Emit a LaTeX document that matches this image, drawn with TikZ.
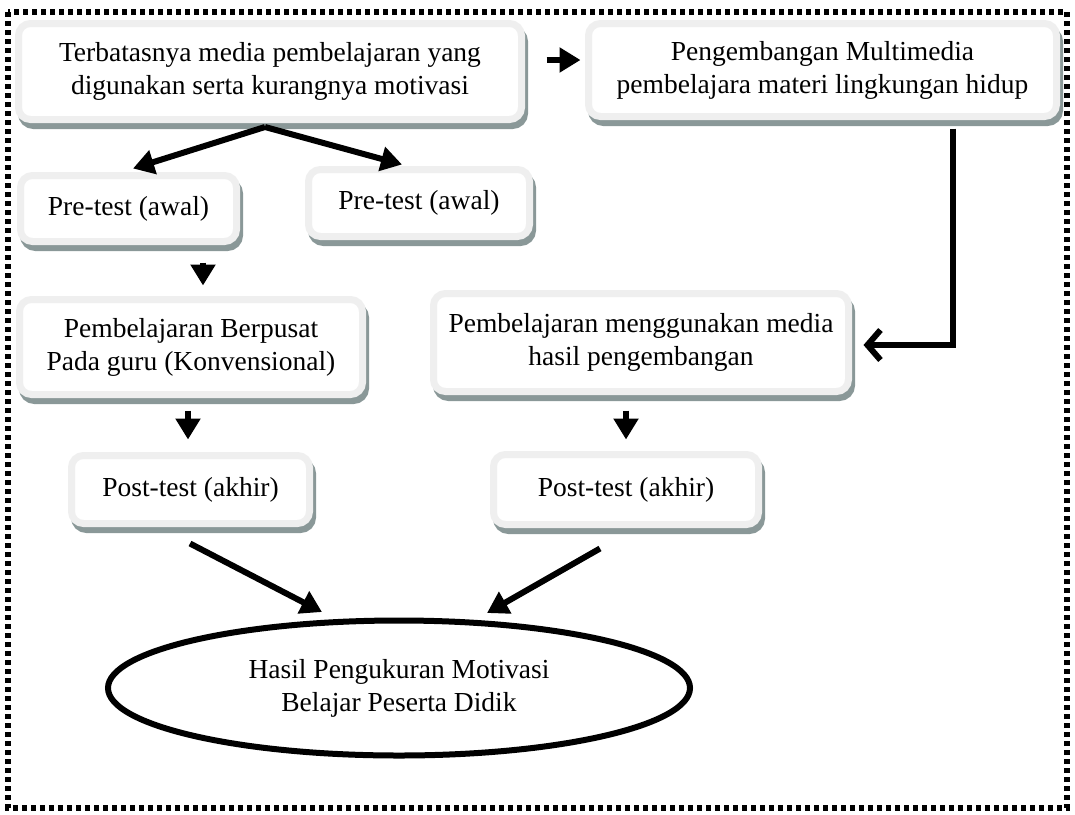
\documentclass[tikz,border=0pt]{standalone}
\usepackage{fontspec}
\setmainfont{Liberation Serif}
\usetikzlibrary{arrows.meta,calc,shapes.geometric}
\definecolor{shadowc}{HTML}{8A9898}
\definecolor{rimc}{HTML}{EFEFEF}
\begin{document}
\begin{tikzpicture}[x=1pt,y=-1pt,
  txt/.style={font=\fontsize{27.5}{33}\selectfont, align=center},
  box/.style={txt, rectangle, rounded corners=12pt, draw=rimc, line width=7pt,
    fill=white, inner sep=0pt,
    preaction={draw=shadowc, fill=shadowc, line width=7pt,
      transform canvas={xshift=3pt,yshift=-6pt}}},
  arr/.style={line width=6pt, -{Triangle[length=21pt,width=24pt]}},
  barb/.style={line width=6pt, -{Straight Barb[length=13pt,width=30pt,line width=6pt]}},
  frame/.style={line width=5.5pt, dash pattern=on 5pt off 4pt}
]
\useasboundingbox (0,0) rectangle (1075,814);
\draw[frame] (8,12) rectangle (1067,808);

\node[box, minimum width=503pt, minimum height=96pt] (A) at (270,71.5)
  {Terbatasnya media pembelajaran yang\\digunakan serta kurangnya motivasi};
\node[box, minimum width=468pt, minimum height=93pt] (B) at (822.5,70)
  {Pengembangan Multimedia\\pembelajara materi lingkungan hidup};
\node[box, minimum width=216pt, minimum height=66pt] (C) at (128.5,208.5)
  {Pre-test (awal)};
\node[box, minimum width=221pt, minimum height=67pt] (D) at (419,203)
  {Pre-test (awal)};
\node[box, minimum width=343pt, minimum height=95pt] (E) at (191,347)
  {Pembelajaran Berpusat\\Pada guru (Konvensional)};
\node[box, minimum width=415pt, minimum height=98pt] (F) at (641,342.5)
  {Pembelajaran menggunakan media\\hasil pengembangan};
\node[box, minimum width=238pt, minimum height=68pt] (G) at (190.5,489.5)
  {Post-test (akhir)};
\node[box, minimum width=265pt, minimum height=70pt] (H) at (626,489.5)
  {Post-test (akhir)};
\node[txt, ellipse, draw, line width=6pt, minimum width=582pt, minimum height=135pt, inner sep=0pt] (R) at (399,688)
  {Hasil Pengukuran Motivasi\\Belajar Peserta Didik};

\coordinate (apex) at ($(A.south)+(-5,4)$);

\draw[arr] ($(A.east)+(21.5,-11.5)$) -- ($(B.west)+(-4.5,-10)$);
\draw[arr] (apex) -- ($(C.north)+(4.5,-3.5)$);
\draw[arr] (apex) -- ($(D.north)+(-17,-1.5)$);
\draw[arr] ($(C.south)+(74.5,17.5)$) -- ($(E.north)+(12,-10.5)$);
\draw[arr] ($(E.south)+(-3,12.5)$) -- ($(G.north)+(-2.5,-12.5)$);
\draw[arr] ($(F.south)+(-15,15.5)$) -- ($(H.north)+(0,-11.5)$);
\draw[arr] ($(G.south)+(-0.5,16.5)$) -- ($(R.north)+(-77,-5.5)$);
\draw[arr] ($(H.south)+(-26,20.5)$) -- ($(R.north)+(88,-4.5)$);
\draw[barb] ($(B.south)+(130.5,8.5)$) |- ($(F.east)+(11.5,2.5)$);
\end{tikzpicture}
\end{document}
